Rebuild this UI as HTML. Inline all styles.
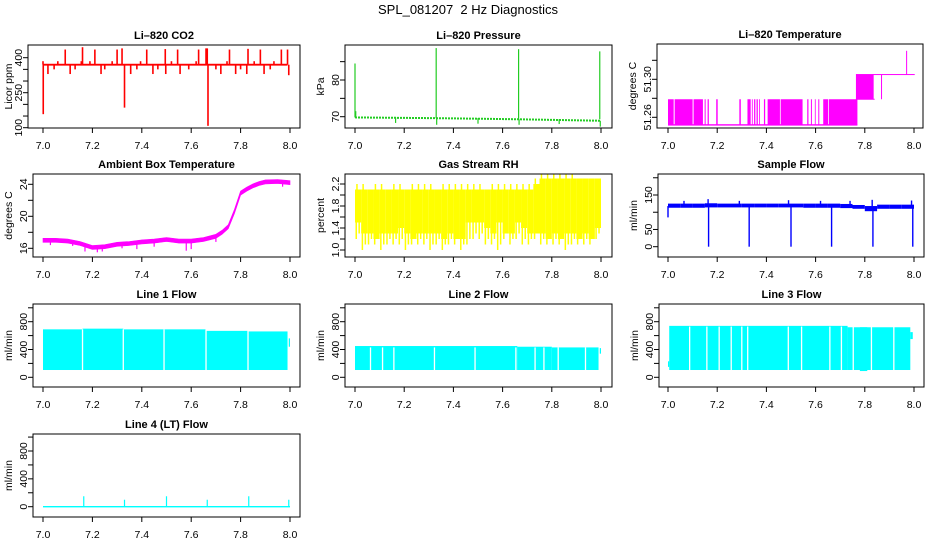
<!DOCTYPE html>
<html><head><meta charset="utf-8">
<style>
html,body{margin:0;padding:0;background:#fff;}
svg{display:block;font-family:"Liberation Sans",sans-serif;}
</style></head>
<body>
<svg id="chart" width="936" height="540" viewBox="0 0 936 540" xmlns="http://www.w3.org/2000/svg">
<rect x="0" y="0" width="936" height="540" fill="#fff"/>
<text x="468" y="14" text-anchor="middle" font-size="13">SPL_081207&#160; 2 Hz Diagnostics</text>
</svg>
<script>
// ---------- shared axis data ----------
const xTicks = [7.0, 7.2, 7.4, 7.6, 7.8, 8.0];
const xTickLabels = ['7.0', '7.2', '7.4', '7.6', '7.8', '8.0'];

// ---------- CO2 ----------
const co2Base = 370;
const co2SpikeX = [7.0, 7.001, 7.02, 7.045, 7.06, 7.09, 7.11, 7.13, 7.155, 7.16, 7.19, 7.21, 7.235, 7.25, 7.28, 7.30, 7.32, 7.33, 7.355, 7.38, 7.395, 7.42, 7.445, 7.465, 7.495, 7.497, 7.52, 7.545, 7.555, 7.59, 7.62, 7.63, 7.66, 7.665, 7.668, 7.70, 7.72, 7.745, 7.755, 7.78, 7.80, 7.825, 7.83, 7.855, 7.88, 7.895, 7.92, 7.935, 7.965, 7.99, 7.995];
const co2SpikeV = [385, 158, 330, 350, 385, 435, 330, 350, 385, 445, 385, 435, 330, 350, 385, 435, 440, 186, 330, 350, 385, 435, 330, 350, 437, 330, 385, 435, 330, 350, 385, 435, 440, 440, 108, 350, 330, 385, 435, 330, 350, 330, 438, 385, 435, 330, 350, 385, 435, 435, 325];

// ---------- Pressure ----------
const presX = [7.0, 7.33, 7.665, 7.997];
const presBase = [69.8, 69.6, 69.3, 68.9];
const presSpikeX = [7.0, 7.003, 7.165, 7.33, 7.332, 7.5, 7.665, 7.667, 7.83, 7.995, 7.997];
const presSpikeV = [84.5, 71.5, 68.3, 88.7, 67.8, 68.1, 88.4, 67.8, 68.0, 87.8, 67.3];

// ---------- Li-820 Temperature ----------
const tempLow = 51.252, tempMid = 51.279, tempHigh = 51.305;
const tempBlockStart = [7.0, 7.027, 7.104, 7.149, 7.161, 7.196, 7.290, 7.323, 7.341, 7.350, 7.360, 7.370, 7.390, 7.405, 7.458, 7.566, 7.581, 7.597, 7.611, 7.631, 7.654];
const tempBlockEnd   = [7.023, 7.100, 7.142, 7.153, 7.166, 7.202, 7.296, 7.336, 7.344, 7.355, 7.365, 7.373, 7.395, 7.455, 7.547, 7.571, 7.585, 7.600, 7.615, 7.651, 7.770];
const tempSpikeX = [7.868, 7.970];
const tempSpikeV = [51.279, 51.330];

// ---------- Ambient box temperature ----------
const ambX = [7.0, 7.05, 7.10, 7.15, 7.20, 7.25, 7.30, 7.35, 7.40, 7.45, 7.50, 7.55, 7.60, 7.65, 7.70, 7.725, 7.75, 7.775, 7.80, 7.825, 7.85, 7.875, 7.90, 7.95, 8.0];
const ambV = [17.0, 17.0, 16.9, 16.6, 16.1, 16.2, 16.5, 16.6, 16.8, 16.9, 17.1, 16.9, 16.9, 17.1, 17.5, 18.0, 18.7, 20.6, 22.9, 23.4, 23.8, 24.1, 24.3, 24.35, 24.2];
const ambDipX = [7.03, 7.12, 7.17, 7.22, 7.24, 7.32, 7.38, 7.45, 7.58, 7.60, 7.70, 7.97];
const ambDipV = [16.4, 16.3, 15.6, 15.5, 15.6, 16.0, 15.9, 16.2, 15.7, 15.9, 16.8, 23.7];

// ---------- Gas stream RH (bins of 0.025) ----------
const rhHi = [2.1,2.1,2.1,2.1,2.1,2.1,2.1,2.1,2.1,2.1,2.1,2.1,2.1,2.1,2.1,2.1,2.1,2.1,2.1,2.1,2.1,2.1,2.1,2.1,2.1,2.1,2.1,2.1,2.1,2.2,2.3,2.3,2.3,2.3,2.3,2.3,2.3,2.3,2.3,2.3];
const rhPeak = [2.2,2.2,2.1,2.2,2.2,2.1,2.2,2.2,2.1,2.2,2.2,2.2,2.2,2.1,2.2,2.2,2.2,2.2,2.2,2.2,2.2,2.1,2.2,2.2,2.2,2.2,2.2,2.2,2.2,2.3,2.4,2.4,2.4,2.4,2.4,2.4,2.3,2.3,2.3,2.3];
const rhLo = [1.5,1.3,1.3,1.2,1.3,1.3,1.3,1.4,1.3,1.2,1.3,1.3,1.3,1.3,1.2,1.3,1.2,1.2,1.5,1.5,1.5,1.4,1.3,1.5,1.3,1.3,1.5,1.4,1.3,1.3,1.3,1.2,1.3,1.2,1.3,1.3,1.2,1.3,1.2,1.4];
const rhMin = [1.2,1.0,1.1,1.1,1.0,1.1,1.1,1.1,1.0,1.1,1.1,1.1,1.0,1.1,1.0,1.1,1.1,1.0,1.1,1.2,1.2,1.1,1.1,1.0,1.2,1.1,1.2,1.1,1.1,1.2,1.1,1.1,1.1,1.1,1.0,1.1,1.1,1.1,1.1,1.2];

// ---------- Sample flow (bins of 0.05) ----------
const sfHi = [125,125,125,126,125,125,125,125,125,125,125,125,125,125,124,121,118,122,122,122];
const sfLo = [113,113,113,114,114,114,114,114,114,114,114,113,113,113,112,110,103,110,110,110];
const sfDropX = [7.165, 7.33, 7.5, 7.665, 7.833, 7.995];
const sfDropV = [0, 0, 0, 0, 0, 0];
const sfPeakX = [7.0, 7.065, 7.163, 7.29, 7.49, 7.62, 7.74, 7.83, 7.99];
const sfPeakV = [85, 133, 138, 133, 135, 133, 133, 136, 134];

// ---------- Line 1 flow ----------
const l1Start = [7.0, 7.16, 7.325, 7.49, 7.66, 7.83, 7.995];
const l1End   = [7.16, 7.325, 7.49, 7.66, 7.83, 7.99, 8.0];
const l1Hi    = [690, 700, 690, 690, 668, 660, 560];
const l1Lo    = [105, 105, 105, 105, 105, 105, 440];
const l1GapX  = [7.16, 7.325, 7.49, 7.66, 7.83];

// ---------- Line 2 flow ----------
const l2Start = [7.0, 7.66, 7.8, 7.995];
const l2End   = [7.66, 7.8, 7.99, 8.0];
const l2Hi    = [450, 440, 430, 420];
const l2Lo    = [105, 105, 105, 340];
const l2GapX  = [7.063, 7.112, 7.158, 7.323, 7.488, 7.654, 7.732, 7.768, 7.826, 7.937];

// ---------- Line 3 flow ----------
const l3Start = [7.0, 7.005, 7.73, 7.78, 7.985];
const l3End   = [7.005, 7.73, 7.985, 7.81, 7.995];
const l3Hi    = [230, 740, 720, 720, 650];
const l3Lo    = [150, 105, 105, 90, 550];
const l3GapX  = [7.088, 7.158, 7.208, 7.257, 7.30, 7.324, 7.489, 7.543, 7.658, 7.705, 7.753, 7.827, 7.918];

// ---------- Line 4 flow ----------
const l4Base = 0;
const l4SpikeX = [7.165, 7.33, 7.5, 7.665, 7.833, 7.995];
const l4SpikeV = [150, 100, 150, 100, 150, 100];

const NS = 'http://www.w3.org/2000/svg';
const svg = document.getElementById('chart');

function mk(parent, tag, attrs, name) {
  const el = document.createElementNS(NS, tag);
  for (const k in attrs) el.setAttribute(k, attrs[k]);
  
  
  parent.appendChild(el);
  return el;
}

let clipId = 0;
function panel(cfg) {
  const g = mk(svg, 'g', {}, cfg.name + '-panel');
  const [bl, bt, br, bb] = cfg.box;
  const sx = v => cfg.x0 + (v - 7.0) * (cfg.x1 - cfg.x0);
  const sy = v => cfg.p1 + (v - cfg.v1) * (cfg.p2 - cfg.p1) / (cfg.v2 - cfg.v1);
  const cid = 'clip' + (clipId++);
  const defs = mk(g, 'defs', {}, cfg.name + '-defs');
  const cp = mk(defs, 'clipPath', {id: cid}, cfg.name + '-clip');
  mk(cp, 'rect', {x: bl, y: bt, width: br - bl, height: bb - bt}, cfg.name + '-clip-rect');
  const plot = mk(g, 'g', {'clip-path': 'url(#' + cid + ')'}, cfg.name + '-plot-area');
  const t = mk(g, 'text', {x: (bl + br) / 2, y: bt - 6, 'text-anchor': 'middle', 'font-size': 11, 'font-weight': 'bold'}, cfg.name + '-title');
  t.textContent = cfg.title;
  xTicks.forEach((v, i) => {
    mk(g, 'line', {x1: sx(v), y1: bb, x2: sx(v), y2: bb + 5, stroke: '#000', 'stroke-width': 1}, 'x-tick');
    const tl = mk(g, 'text', {x: sx(v), y: bb + 21, 'text-anchor': 'middle', 'font-size': 10.5}, 'x-tick-label');
    tl.textContent = xTickLabels[i];
  });
  cfg.yTicks.forEach(v => {
    mk(g, 'line', {x1: bl - 5, y1: sy(v), x2: bl, y2: sy(v), stroke: '#000', 'stroke-width': 1}, 'y-tick');
  });
  cfg.yLabels.forEach((v, i) => {
    const tx = bl - 6, ty = sy(v);
    const tl = mk(g, 'text', {x: tx, y: ty, 'text-anchor': 'middle', 'font-size': 10.5, transform: 'rotate(-90 ' + tx + ' ' + ty + ')'}, 'y-tick-label');
    tl.textContent = cfg.yLabelText ? cfg.yLabelText[i] : String(v);
  });
  const ax = cfg.ylabX, ay = (bt + bb) / 2;
  const yt = mk(g, 'text', {x: ax, y: ay, 'text-anchor': 'middle', 'font-size': 10.5, transform: 'rotate(-90 ' + ax + ' ' + ay + ')'}, cfg.name + '-y-axis-title');
  yt.textContent = cfg.ylab;
  const finish = () => mk(g, 'rect', {x: bl, y: bt, width: br - bl, height: bb - bt, fill: 'none', stroke: '#000', 'stroke-width': 1}, cfg.name + '-frame');
  return {sx, sy, plot, finish};
}

function vline(p, x, y1, y2, color, w, name) {
  return mk(p, 'line', {x1: x, y1: y1, x2: x, y2: y2, stroke: color, 'stroke-width': w}, name);
}
function hrect(p, x1, x2, y1, y2, color, name) {
  return mk(p, 'rect', {x: Math.min(x1, x2), y: Math.min(y1, y2), width: Math.max(0.8, Math.abs(x2 - x1)), height: Math.max(1, Math.abs(y2 - y1)), fill: color}, name);
}

// ===== CO2 =====
(function () {
  const P = panel({name: 'co2', title: 'Li\u2013820 CO2', box: [28, 45, 300, 128], x0: 43, x1: 290, v1: 100, p1: 127.7, v2: 400, p2: 57.7,
    yTicks: [100, 150, 200, 250, 300, 350, 400], yLabels: [100, 250, 400], ylab: 'Licor ppm', ylabX: 12});
  hrect(P.plot, P.sx(7.0), P.sx(7.99), P.sy(co2Base - 4), P.sy(co2Base + 4), '#ff0000', 'co2-baseline');
  co2SpikeX.forEach((x, i) => vline(P.plot, P.sx(x), P.sy(co2Base), P.sy(co2SpikeV[i]), '#ff0000', 1.6, 'co2-spike'));
  P.finish();
})();

// ===== Pressure =====
(function () {
  const P = panel({name: 'pressure', title: 'Li\u2013820 Pressure', box: [345, 45, 612, 128], x0: 355, x1: 601, v1: 70, p1: 116.7, v2: 80, p2: 80,
    yTicks: [70, 75, 80, 85], yLabels: [70, 80], ylab: 'kPa', ylabX: 324});
  const pts = presX.map((x, i) => P.sx(x) + ',' + P.sy(presBase[i])).join(' ');
  mk(P.plot, 'polyline', {points: pts, fill: 'none', stroke: '#22cc22', 'stroke-width': 2, 'stroke-dasharray': '2 1'}, 'pressure-line');
  presSpikeX.forEach((x, i) => {
    let b = presBase[0];
    for (let k = 0; k < presX.length; k++) if (x >= presX[k]) b = presBase[k];
    vline(P.plot, P.sx(x), P.sy(b), P.sy(presSpikeV[i]), '#22cc22', 1.2, 'pressure-spike');
  });
  P.finish();
})();

// ===== Li-820 Temperature =====
(function () {
  const P = panel({name: 'li820-temp', title: 'Li\u2013820 Temperature', box: [657, 44, 923, 128], x0: 668, x1: 914, v1: 51.26, p1: 117.3, v2: 51.30, p2: 79.3,
    yTicks: [51.26, 51.28, 51.30, 51.32], yLabels: [51.26, 51.30], yLabelText: ['51.26', '51.30'], ylab: 'degrees C', ylabX: 636});
  hrect(P.plot, P.sx(7.0), P.sx(7.77), P.sy(tempLow) - 0.7, P.sy(tempLow) + 0.7, '#ff00ff', 'temp-low-level');
  tempBlockStart.forEach((s, i) => hrect(P.plot, P.sx(s), P.sx(tempBlockEnd[i]), P.sy(tempLow), P.sy(tempMid), '#ff00ff', 'temp-block'));
  hrect(P.plot, P.sx(7.764), P.sx(7.836), P.sy(tempMid), P.sy(tempHigh), '#ff00ff', 'temp-mid-block');
  hrect(P.plot, P.sx(7.764), P.sx(7.84), P.sy(tempMid) - 0.5, P.sy(tempMid) + 0.5, '#ff00ff', 'temp-mid-level');
  hrect(P.plot, P.sx(7.764), P.sx(8.003), P.sy(tempHigh) - 0.5, P.sy(tempHigh) + 0.5, '#ff00ff', 'temp-high-level');
  tempSpikeX.forEach((x, i) => vline(P.plot, P.sx(x), P.sy(tempHigh), P.sy(tempSpikeV[i]), '#ff00ff', 1, 'temp-spike'));
  P.finish();
})();

// ===== Ambient =====
(function () {
  const P = panel({name: 'ambient', title: 'Ambient Box Temperature', box: [33, 174, 300, 257], x0: 43, x1: 290, v1: 16, p1: 248.3, v2: 24, p2: 184.3,
    yTicks: [16, 18, 20, 22, 24], yLabels: [16, 20, 24], ylab: 'degrees C', ylabX: 12});
  const top = ambX.map((x, i) => P.sx(x) + ',' + P.sy(ambV[i] + 0.25));
  const bot = ambX.map((x, i) => P.sx(x) + ',' + P.sy(ambV[i] - 0.25)).reverse();
  mk(P.plot, 'polygon', {points: top.concat(bot).join(' '), fill: '#ff00ff', stroke: '#ff00ff', 'stroke-width': 0.6}, 'ambient-band');
  ambDipX.forEach((x, i) => {
    let b = ambV[0];
    for (let k = 0; k < ambX.length; k++) if (x >= ambX[k]) b = ambV[k];
    vline(P.plot, P.sx(x), P.sy(b), P.sy(ambDipV[i]), '#ff00ff', 1.2, 'ambient-dip');
  });
  P.finish();
})();

// ===== RH =====
(function () {
  const P = panel({name: 'rh', title: 'Gas Stream RH', box: [345, 174, 612, 257], x0: 355, x1: 601, v1: 1.0, p1: 250, v2: 2.2, p2: 184,
    yTicks: [1.0, 1.2, 1.4, 1.6, 1.8, 2.0, 2.2], yLabels: [1.0, 1.4, 1.8, 2.2], yLabelText: ['1.0', '1.4', '1.8', '2.2'], ylab: 'percent', ylabX: 324});
  rhHi.forEach((h, i) => {
    const x0 = 7.0 + i * 0.025, x1 = x0 + 0.025;
    hrect(P.plot, P.sx(x0), P.sx(x1), P.sy(rhLo[i]), P.sy(h), '#ffff00', 'rh-bin');
    vline(P.plot, P.sx(x0 + 0.008), P.sy(h), P.sy(rhPeak[i]), '#ffff00', 1.5, 'rh-peak');
    vline(P.plot, P.sx(x0 + 0.005), P.sy(rhLo[i]), P.sy(rhMin[i]), '#ffff00', 1.5, 'rh-min');
    vline(P.plot, P.sx(x0 + 0.017), P.sy(rhLo[i]), P.sy(rhMin[i] + 0.1), '#ffff00', 1.5, 'rh-min');
  });
  P.finish();
})();

// ===== Sample flow =====
(function () {
  const P = panel({name: 'sample-flow', title: 'Sample Flow', box: [658, 174, 924, 257], x0: 668, x1: 914, v1: 0, p1: 246.7, v2: 150, p2: 195,
    yTicks: [0, 50, 100, 150, 200], yLabels: [0, 50, 150], ylab: 'ml/min', ylabX: 637});
  sfHi.forEach((h, i) => {
    const x0 = 7.0 + i * 0.05, x1 = x0 + 0.05;
    hrect(P.plot, P.sx(x0), P.sx(x1), P.sy(sfLo[i]), P.sy(h), '#0000ff', 'sample-flow-bin');
  });
  sfDropX.forEach((x, i) => vline(P.plot, P.sx(x), P.sy(115), P.sy(sfDropV[i]), '#0000ff', 1.4, 'sample-flow-drop'));
  sfPeakX.forEach((x, i) => vline(P.plot, P.sx(x), P.sy(118), P.sy(sfPeakV[i]), '#0000ff', 1.4, 'sample-flow-peak'));
  P.finish();
})();

// ===== Line flows =====
function flowPanel(name, title, box, x0, x1, p0, p800, starts, ends, his, los, gaps) {
  const P = panel({name: name, title: title, box: box, x0: x0, x1: x1, v1: 0, p1: p0, v2: 800, p2: p800,
    yTicks: [0, 200, 400, 600, 800, 1000], yLabels: [0, 400, 800], ylab: 'ml/min', ylabX: box[0] - 21});
  starts.forEach((s, i) => hrect(P.plot, P.sx(s), P.sx(ends[i]), P.sy(los[i]), P.sy(his[i]), '#00ffff', name + '-band'));
  gaps.forEach(g => vline(P.plot, P.sx(g), P.sy(his[1] - 10), P.sy(100), '#ffffff', 1.3, name + '-gap'));
  P.finish();
  return P;
}
flowPanel('line1-flow', 'Line 1 Flow', [33, 304, 300, 387], 43, 290, 377.3, 321.7, l1Start, l1End, l1Hi, l1Lo, l1GapX);
flowPanel('line2-flow', 'Line 2 Flow', [345, 304, 612, 387], 355, 601, 377.3, 321.7, l2Start, l2End, l2Hi, l2Lo, l2GapX);
flowPanel('line3-flow', 'Line 3 Flow', [659, 304, 924, 387], 668, 914, 377.3, 321.7, l3Start, l3End, l3Hi, l3Lo, l3GapX);

(function () {
  const P = panel({name: 'line4-flow', title: 'Line 4 (LT) Flow', box: [33, 434, 300, 517], x0: 43, x1: 290, v1: 0, p1: 506.7, v2: 800, p2: 451,
    yTicks: [0, 200, 400, 600, 800, 1000], yLabels: [0, 400, 800], ylab: 'ml/min', ylabX: 12});
  hrect(P.plot, P.sx(7.0), P.sx(8.0), P.sy(l4Base - 10), P.sy(l4Base + 10), '#00ffff', 'line4-baseline');
  l4SpikeX.forEach((x, i) => vline(P.plot, P.sx(x), P.sy(l4Base), P.sy(l4SpikeV[i]), '#00ffff', 1.2, 'line4-spike'));
  P.finish();
})();
</script>
</body></html>
